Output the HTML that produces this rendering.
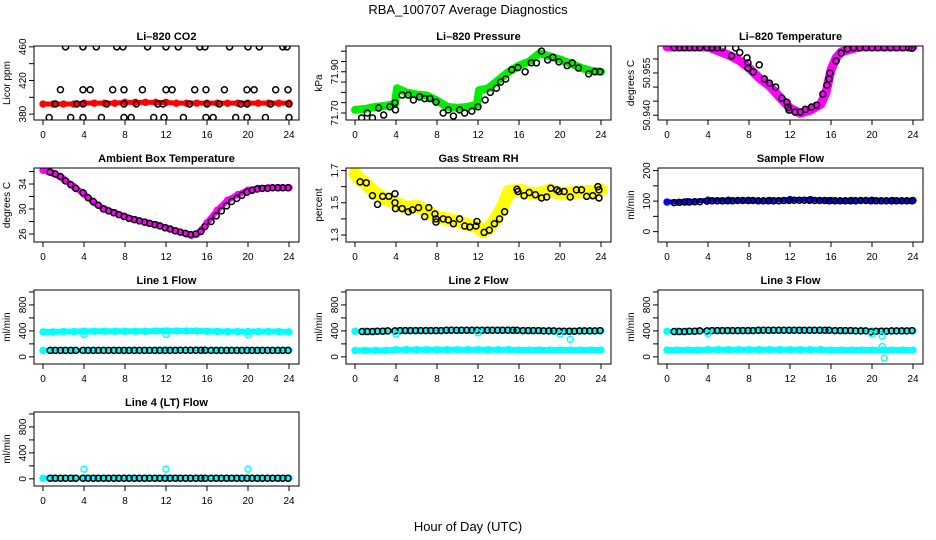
<!DOCTYPE html>
<html><head><meta charset="utf-8"><style>
body{margin:0;background:#fff}
svg{display:block;font-family:"Liberation Sans",sans-serif}
</style></head><body>
<svg id="fig" width="936" height="540" viewBox="0 0 936 540">
<text x="468" y="14" text-anchor="middle" font-size="13">RBA_100707  Average Diagnostics</text>
<text x="468" y="531" text-anchor="middle" font-size="13">Hour of Day (UTC)</text>
</svg>
<script>
// ---------- data ----------
const xTicks=[0,4,8,12,16,20,24];
const co2RedH=[0,1,2,3,4,5,6,7,8,9,10,11,12,13,14,15,16,17,18,19,20,21,22,23,24];
const co2RedV=[392,392,392,392,393,393,393,393,394,394,394,394,394,393,393,393,393,393,393,393,393,393,393,393,393];
const co2BlackH=[2.2,3.9,5.2,7.2,7.8,10.2,12.0,13.2,15.3,15.8,18.2,20.0,21.1,23.4,23.8,1.7,3.9,4.6,6.8,7.9,9.7,12.0,12.6,14.8,15.9,17.7,19.9,20.6,22.7,23.9,0.6,2.7,3.9,5.7,7.9,8.6,10.8,11.8,13.7,15.9,16.6,18.8,19.9,21.7,24.0,1.2,3.3,3.9,6.2,7.9,9.1,11.2,11.7,14.3,16.0,17.2,19.3,19.9,22.2,24.0];
const co2BlackV=[460,460,460,460,460,460,460,460,460,460,460,460,460,460,460,409,409,409,409,409,409,409,409,409,409,409,409,409,409,409,376,376,376,376,376,376,376,376,376,376,376,376,376,376,376,392,392,392,392,392,392,392,392,392,392,392,392,392,392,392];

const presGreenH=[0,1,2,3,3.9,4.1,5,6,7,8,9,10,11,11.9,12.1,13,14,15,16,17,18,19,20,21,22,23,24];
const presGreenV=[71.715,71.72,71.73,71.735,71.745,71.82,71.80,71.79,71.785,71.76,71.73,71.725,71.73,71.74,71.81,71.82,71.86,71.90,71.93,71.95,71.99,71.975,71.96,71.94,71.92,71.905,71.90];
const presBlackH=[0.65,1.2,1.7,2.3,2.8,3.4,3.9,3.95,4.6,5.2,5.7,6.3,6.8,7.3,7.9,8.6,9.1,9.6,10.2,10.7,11.4,12.0,12.7,13.2,13.8,14.2,14.7,15.3,15.9,16.6,17.2,17.7,18.2,18.8,19.3,19.9,20.7,21.2,21.8,22.8,23.4,23.9];
const presBlackV=[71.676,71.70,71.676,71.724,71.69,71.73,71.75,71.715,71.787,71.787,71.763,71.778,71.77,71.77,71.753,71.70,71.715,71.685,71.715,71.70,71.709,71.73,71.763,71.80,71.82,71.85,71.865,71.91,71.92,71.90,71.943,71.943,72.0,71.957,71.97,71.948,71.93,71.943,71.918,71.89,71.90,71.90];

const tempMagH=[0,2,4,6,7,8,9,10,11,12,13,14,15,15.5,16,16.5,17,18,19,20,22,24];
const tempMagV=[50.9643,50.9643,50.9643,50.9614,50.9596,50.9568,50.9532,50.9504,50.9464,50.9425,50.9407,50.9418,50.9439,50.9479,50.9561,50.9604,50.9625,50.9636,50.9643,50.9643,50.9643,50.9643];
const tempBlackH=[0.7,1.2,1.7,2.2,2.7,3.2,3.9,4.4,4.9,5.4,6.3,6.7,7.1,7.8,7.9,7.9,8.4,9.0,9.5,10.0,10.6,11.2,11.7,11.8,11.9,12.5,13.0,13.5,14.1,14.6,15.2,15.6,15.8,15.9,16.5,17.0,17.6,18.2,18.8,19.4,20.0,20.6,21.2,21.8,22.4,23.0,23.6,23.9];
const tempBlackV=[50.9640,50.9640,50.9640,50.9640,50.9640,50.9640,50.9640,50.9640,50.9640,50.9640,50.9611,50.9639,50.9623,50.9604,50.9586,50.9568,50.9554,50.9579,50.9529,50.9514,50.9500,50.9461,50.9446,50.9429,50.9418,50.9411,50.9411,50.9421,50.9429,50.9436,50.9475,50.9507,50.9529,50.9550,50.9593,50.9621,50.9636,50.9640,50.9640,50.9640,50.9640,50.9640,50.9640,50.9640,50.9640,50.9640,50.9640,50.9638];

const ambMagH=[0,0.5,1,2,3,4,5,6,7,8,9,10,11,12,13,14,14.5,15,15.5,16,17,18,19,20,21,22,23,24];
const ambMagV=[36.2,36.0,35.7,34.8,33.6,32.4,31.0,30.0,29.4,28.8,28.3,27.9,27.5,27.0,26.5,26.0,25.8,26.0,26.7,27.8,29.8,31.4,32.3,33.0,33.3,33.4,33.4,33.4];
const halfH=[0.7,1.2,1.7,2.2,2.7,3.2,3.9,4.4,4.9,5.4,5.9,6.4,6.9,7.4,7.9,8.4,8.9,9.4,9.9,10.4,10.9,11.4,11.9,12.4,12.9,13.4,13.9,14.4,14.9,15.4,15.8,16.4,16.9,17.4,17.9,18.4,18.9,19.4,19.9,20.4,20.9,21.4,21.9,22.4,22.9,23.4,23.9];
const ambBlackV=[35.9,35.6,35.2,34.5,33.9,33.3,32.6,31.8,31.2,30.6,30.0,29.7,29.4,29.1,28.8,28.5,28.3,28.1,27.9,27.7,27.5,27.3,27.0,26.8,26.5,26.3,26.1,25.9,26.0,26.4,27.2,28.0,28.9,29.7,30.5,31.2,31.7,32.2,32.7,33.0,33.2,33.3,33.3,33.4,33.4,33.4,33.4];

const rhYelH=[0,0.5,1,2,3,4,5,6,7,8,9,10,11,12,12.5,13,13.5,14,14.5,15,16,17,18,19,20,21,22,23,24];
const rhYelV=[1.68,1.644,1.62,1.56,1.524,1.50,1.47,1.48,1.45,1.41,1.40,1.384,1.364,1.35,1.32,1.34,1.38,1.43,1.49,1.57,1.58,1.56,1.556,1.58,1.56,1.56,1.57,1.57,1.58];
const rhBlackH=[0.5,1.1,1.7,2.2,2.7,3.3,3.9,3.9,3.95,4.6,5.2,5.6,6.2,6.8,7.2,7.8,7.9,7.9,8.6,9.1,9.6,10.2,10.7,11.2,11.8,11.9,12.6,13.1,13.6,14.1,14.6,15.8,15.9,16.5,17.0,17.6,18.2,18.7,19.1,19.7,19.9,20.4,21.0,21.6,22.1,22.6,23.2,23.7,23.8,23.8];
const rhBlackV=[1.63,1.624,1.544,1.49,1.54,1.54,1.556,1.50,1.464,1.464,1.444,1.456,1.47,1.414,1.47,1.43,1.40,1.38,1.40,1.394,1.37,1.40,1.356,1.35,1.356,1.384,1.316,1.33,1.37,1.40,1.444,1.584,1.57,1.544,1.564,1.55,1.53,1.536,1.59,1.58,1.57,1.57,1.536,1.58,1.58,1.54,1.544,1.60,1.58,1.53];

const sfBlueH=[0,2,4,6,8,10,12,14,16,18,20,22,24];
const sfBlueV=[97,98,103,103,102,102,105,105,102,102,103,102,102];
const sfBlackV=[95,96,97,97,98,98,100,101,101,101,101,101,102,102,102,102,101,101,101,101,101,102,102,103,103,103,103,102,102,102,101,101,101,101,101,101,102,102,101,101,101,101,101,101,101,101,101];

const flowCyanH=[0,1,2,3,4,5,6,7,8,9,10,11,12,13,14,15,16,17,18,19,20,21,22,23,24];
const line1CyanHi=[385,385,390,390,395,395,395,395,395,395,395,398,400,400,400,400,395,392,390,390,390,390,390,390,385];
const line1CyanLo=[100,100,100,100,100,100,100,100,100,100,100,100,105,105,105,105,100,100,100,100,100,100,100,100,100];
const line1BlackV=[100,100,100,100,100,100,100,100,100,100,100,100,100,100,100,100,100,100,100,100,100,100,100,100,100,102,102,102,102,102,102,100,100,100,100,100,100,100,100,100,100,100,100,100,100,100,100];
const line1OutH=[4,12,20];
const line1OutV=[345,345,340];

const line2CyanHi=[395,395,395,400,400,405,405,405,405,405,405,405,408,410,410,410,405,405,405,405,400,400,400,400,400];
const line2CyanLo=[100,100,100,100,110,110,110,110,110,110,110,110,110,110,110,110,105,105,105,105,105,105,105,105,105];
const line2BlackV=[390,390,390,395,395,400,400,405,405,405,405,405,405,405,405,405,410,410,410,410,410,410,410,410,410,410,410,410,410,410,410,405,405,405,405,400,400,400,395,395,395,395,400,400,400,400,405];
const line2OutH=[4,12,20,21];
const line2OutV=[350,370,350,270];

const line3CyanHi=[395,395,395,400,400,405,405,405,405,405,405,405,408,410,410,410,405,405,405,405,400,400,400,400,400];
const line3CyanLo=[105,105,105,105,110,110,110,110,110,110,110,110,110,110,110,110,105,105,105,105,105,105,105,105,105];
const line3BlackV=[390,390,390,395,395,400,400,405,405,405,405,405,405,405,405,405,410,410,410,410,410,410,410,410,410,410,410,410,410,410,410,405,405,405,405,400,400,400,385,395,395,395,400,400,400,400,405];
const line3OutH=[4,20,21,21,21.2];
const line3OutV=[360,350,320,160,-20];

const line4CyanV=[10,10,10,10,10,10,10,10,10,10,10,10,10,10,10,10,10,10,10,10,10,10,10,10,10];
const line4BlackV=[10,10,10,10,10,10,10,10,10,10,10,10,10,10,10,10,10,10,10,10,10,10,10,10,10,10,10,10,10,10,10,10,10,10,10,10,10,10,10,10,10,10,10,10,10,10,10];
const line4OutH=[4,12,20];
const line4OutV=[150,150,150];

const flowTicks=[0,200,400,600,800,1000];
const flowLabels=[0,400,800];

// ---------- drawing ----------
const NS='http://www.w3.org/2000/svg';
const svg=document.getElementById('fig');
function mk(tag,parent){const e=document.createElementNS(NS,tag);parent.appendChild(e);return e;}
const ROW_TOP=[46,168,290,412], BOX_H=74;
function xPix(col,h){return 43+col*312+h*10.25;}

function panel(p){
  const g=mk('g',svg);
  
  
  const top=ROW_TOP[p.row], bot=top+BOX_H;
  const left=xPix(p.col,0)-9, right=xPix(p.col,24)+10;
  const y=v=>bot-(v-p.ymin)/(p.ymax-p.ymin)*BOX_H;
  const x=h=>xPix(p.col,h);
  const clipId='clip'+p.row+p.col;
  const cp=mk('clipPath',g); cp.setAttribute('id',clipId);
  const cr=mk('rect',cp); cr.setAttribute('x',left);cr.setAttribute('y',top);cr.setAttribute('width',right-left);cr.setAttribute('height',BOX_H);
  const t=mk('text',g);
  
  
  t.setAttribute('x',(left+right)/2);t.setAttribute('y',top-6);t.setAttribute('text-anchor','middle');
  t.setAttribute('font-size','11');t.setAttribute('font-weight','bold');t.textContent=p.title;
  const yl=mk('text',g);
  
  
  yl.setAttribute('transform',`translate(${left-24},${(top+bot)/2}) rotate(-90)`);
  yl.setAttribute('text-anchor','middle');yl.setAttribute('font-size','10');yl.textContent=p.ylab;
  // data
  const dg=mk('g',g); dg.setAttribute('clip-path',`url(#${clipId})`);
  (p.bands||[]).forEach(b=>{
    const pl=mk('polyline',dg);
    
    
    pl.setAttribute('points',b.h.map((h,i)=>x(h)+','+y(b.v[i])).join(' '));
    pl.setAttribute('fill','none');pl.setAttribute('stroke',b.color);pl.setAttribute('stroke-width',b.w);
    pl.setAttribute('stroke-linejoin','round');pl.setAttribute('stroke-linecap','round');
    b.h.forEach((h,i)=>{
      const c=mk('circle',dg);
      
      
      c.setAttribute('cx',x(h));c.setAttribute('cy',y(b.v[i]));c.setAttribute('r',3);
      c.setAttribute('fill','none');c.setAttribute('stroke',b.color);c.setAttribute('stroke-width',1.4);
    });
  });
  (p.pts||[]).forEach(s=>{
    s.h.forEach((h,i)=>{
      const c=mk('circle',dg);
      
      
      c.setAttribute('cx',x(h));c.setAttribute('cy',y(s.v[i]));c.setAttribute('r',3);
      c.setAttribute('fill','none');c.setAttribute('stroke',s.color);c.setAttribute('stroke-width',s.color==='#000'?1.5:1.4);
    });
  });
  // box
  const r=mk('rect',g);
  
  
  r.setAttribute('x',left);r.setAttribute('y',top);r.setAttribute('width',right-left);r.setAttribute('height',BOX_H);
  r.setAttribute('fill','none');r.setAttribute('stroke','#000');r.setAttribute('stroke-width',1);
  // x axis
  xTicks.forEach(tv=>{
    const l=mk('line',g);
    
    
    l.setAttribute('x1',x(tv));l.setAttribute('x2',x(tv));l.setAttribute('y1',bot);l.setAttribute('y2',bot+5);l.setAttribute('stroke','#000');
    const tl=mk('text',g);
    
    
    tl.setAttribute('x',x(tv));tl.setAttribute('y',bot+18);tl.setAttribute('text-anchor','middle');tl.setAttribute('font-size','10');
    tl.textContent=tv;
  });
  p.yticks.forEach(tv=>{
    const l=mk('line',g);
    
    
    l.setAttribute('x1',left-5);l.setAttribute('x2',left);l.setAttribute('y1',y(tv));l.setAttribute('y2',y(tv));l.setAttribute('stroke','#000');
  });
  p.ylabels.forEach(tv=>{
    const tl=mk('text',g);
    
    
    tl.setAttribute('transform',`translate(${left-8},${y(tv)}) rotate(-90)`);
    tl.setAttribute('text-anchor','middle');tl.setAttribute('font-size','10');
    tl.textContent=p.fmt?p.fmt(tv):tv;
  });
}

panel({name:'co2-panel',title:'Li\u2013820 CO2',ylab:'Licor ppm',row:0,col:0,ymin:373,ymax:461,
  yticks:[380,400,420,440,460],ylabels:[380,420,460],
  bands:[{name:'co2-red-series',h:co2RedH,v:co2RedV,color:'#ff0000',w:5}],
  pts:[{name:'co2-black-point',h:co2BlackH,v:co2BlackV,color:'#000'}]});
panel({name:'pressure-panel',title:'Li\u2013820 Pressure',ylab:'kPa',row:0,col:1,ymin:71.666,ymax:72.025,
  yticks:[71.70,71.75,71.80,71.85,71.90,71.95,72.00],ylabels:[71.70,71.90],fmt:v=>v.toFixed(2),
  bands:[{name:'pressure-green-series',h:presGreenH,v:presGreenV,color:'#00ee00',w:8}],
  pts:[{name:'pressure-black-point',h:presBlackH,v:presBlackV,color:'#000'}]});
panel({name:'li820-temperature-panel',title:'Li\u2013820 Temperature',ylab:'degrees C',row:0,col:2,ymin:50.9383,ymax:50.9646,
  yticks:[50.940,50.945,50.950,50.955,50.960],ylabels:[50.940,50.955],fmt:v=>v.toFixed(3),
  bands:[{name:'temperature-magenta-series',h:tempMagH,v:tempMagV,color:'#ff00ff',w:9}],
  pts:[{name:'temperature-black-point',h:tempBlackH,v:tempBlackV,color:'#000'}]});
panel({name:'ambient-temperature-panel',title:'Ambient Box Temperature',ylab:'degrees C',row:1,col:0,ymin:24.72,ymax:36.56,
  yticks:[26,28,30,32,34,36],ylabels:[26,30,34],
  bands:[{name:'ambient-magenta-series',h:ambMagH,v:ambMagV,color:'#ff00ff',w:6}],
  pts:[{name:'ambient-black-point',h:halfH,v:ambBlackV,color:'#000'}]});
panel({name:'gas-rh-panel',title:'Gas Stream RH',ylab:'percent',row:1,col:1,ymin:1.2565,ymax:1.716,
  yticks:[1.3,1.4,1.5,1.6,1.7],ylabels:[1.3,1.5,1.7],fmt:v=>v.toFixed(1),
  bands:[{name:'rh-yellow-series',h:rhYelH,v:rhYelV,color:'#ffff00',w:13}],
  pts:[{name:'rh-black-point',h:rhBlackH,v:rhBlackV,color:'#000'}]});
panel({name:'sample-flow-panel',title:'Sample Flow',ylab:'ml/min',row:1,col:2,ymin:-34,ymax:208.5,
  yticks:[0,50,100,150,200],ylabels:[0,100,200],
  bands:[{name:'sample-flow-blue-series',h:sfBlueH,v:sfBlueV,color:'#0000ff',w:5}],
  pts:[{name:'sample-flow-black-point',h:halfH,v:sfBlackV,color:'#000'}]});
panel({name:'line1-flow-panel',title:'Line 1 Flow',ylab:'ml/min',row:2,col:0,ymin:-110,ymax:1030,
  yticks:flowTicks,ylabels:flowLabels,
  bands:[{name:'line1-cyan-high',h:flowCyanH,v:line1CyanHi,color:'#00ffff',w:6},{name:'line1-cyan-low',h:flowCyanH,v:line1CyanLo,color:'#00ffff',w:5}],
  pts:[{name:'line1-black-point',h:halfH,v:line1BlackV,color:'#000'},{name:'line1-cyan-outlier',h:line1OutH,v:line1OutV,color:'#00ffff'}]});
panel({name:'line2-flow-panel',title:'Line 2 Flow',ylab:'ml/min',row:2,col:1,ymin:-110,ymax:1030,
  yticks:flowTicks,ylabels:flowLabels,
  bands:[{name:'line2-cyan-high',h:flowCyanH,v:line2CyanHi,color:'#00ffff',w:5},{name:'line2-cyan-low',h:flowCyanH,v:line2CyanLo,color:'#00ffff',w:6}],
  pts:[{name:'line2-black-point',h:halfH,v:line2BlackV,color:'#000'},{name:'line2-cyan-outlier',h:line2OutH,v:line2OutV,color:'#00ffff'}]});
panel({name:'line3-flow-panel',title:'Line 3 Flow',ylab:'ml/min',row:2,col:2,ymin:-110,ymax:1030,
  yticks:flowTicks,ylabels:flowLabels,
  bands:[{name:'line3-cyan-high',h:flowCyanH,v:line3CyanHi,color:'#00ffff',w:5},{name:'line3-cyan-low',h:flowCyanH,v:line3CyanLo,color:'#00ffff',w:6}],
  pts:[{name:'line3-black-point',h:halfH,v:line3BlackV,color:'#000'},{name:'line3-cyan-outlier',h:line3OutH,v:line3OutV,color:'#00ffff'}]});
panel({name:'line4-flow-panel',title:'Line 4 (LT) Flow',ylab:'ml/min',row:3,col:0,ymin:-110,ymax:1030,
  yticks:flowTicks,ylabels:flowLabels,
  bands:[{name:'line4-cyan-series',h:flowCyanH,v:line4CyanV,color:'#00ffff',w:5}],
  pts:[{name:'line4-black-point',h:halfH,v:line4BlackV,color:'#000'},{name:'line4-cyan-outlier',h:line4OutH,v:line4OutV,color:'#00ffff'}]});
</script>
</body></html>
